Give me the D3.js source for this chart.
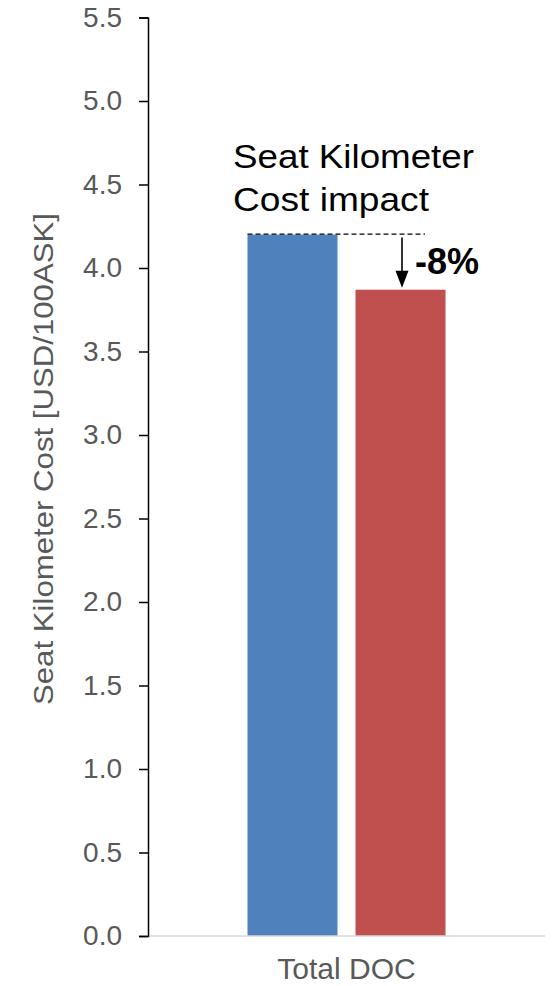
<!DOCTYPE html>
<meta charset="utf-8">
<style>
  body { margin: 0; background: #fff; }
  text { font-family: Arial, "Liberation Sans", sans-serif; }
</style>
<svg width="557" height="986"></svg>
<script src="https://cdn.jsdelivr.net/npm/d3@7"></script>
<script>

var categories = ["Total DOC"];
var seriesNames = ["Baseline", "New"];
var seriesValues = [4.2, 3.87];
var seriesColors = ["#4F81BD", "#C0504D"];
var yTicks = [0, 0.5, 1, 1.5, 2, 2.5, 3, 3.5, 4, 4.5, 5, 5.5];
var changeLabel = "-8%";

var svg = d3.select("svg");

var x0 = 148, x1 = 545;
var y = d3.scaleLinear().domain([0, 5.5]).range([936, 17.5]);

var xBand = d3.scaleBand().domain(categories).range([x0, x1]).paddingInner(0).paddingOuter(0.5025);
var xSeries = d3.scaleBand().domain(seriesNames).range([0, xBand.bandwidth()]).paddingInner(0.1667);

// bars
var g = svg.append("g");
categories.forEach(function(c) {
  g.selectAll("rect.s")
    .data(seriesValues)
    .enter().append("rect")
    .attr("x", function(d, i) { return xBand(c) + xSeries(seriesNames[i]); })
    .attr("y", function(d) { return y(d); })
    .attr("width", xSeries.bandwidth())
    .attr("height", function(d) { return y(0) - y(d); })
    .attr("fill", function(d, i) { return seriesColors[i]; });
});

// x baseline
svg.append("line")
  .attr("x1", x0).attr("x2", x1)
  .attr("y1", y(0)).attr("y2", y(0))
  .attr("stroke", "#D9D9D9").attr("stroke-width", 1.5);

// y axis
var yAxis = svg.append("g")
  .attr("transform", "translate(" + x0 + ",0)")
  .call(d3.axisLeft(y).tickValues(yTicks).tickSize(9).tickPadding(17)
    .tickFormat(d3.format(".1f")));
yAxis.select(".domain").attr("stroke", "#000").attr("stroke-width", 1.5);
yAxis.selectAll(".tick line").attr("stroke", "#000").attr("stroke-width", 1.5);
yAxis.selectAll(".tick text")
  .attr("fill", "#595959")
  .style("font-size", "28px")
  .style("font-family", "Arial, 'Liberation Sans', sans-serif");

// category label
svg.append("text")
  .attr("x", xBand(categories[0]) + xBand.bandwidth() / 2)
  .attr("y", 979)
  .attr("text-anchor", "middle")
  .attr("fill", "#595959")
  .style("font-size", "30px")
  .text(categories[0]);

// y axis title
svg.append("text")
  .attr("transform", "translate(53,459) rotate(-90)")
  .attr("text-anchor", "middle")
  .attr("fill", "#595959")
  .style("font-size", "28px")
  .attr("textLength", 492)
  .attr("lengthAdjust", "spacingAndGlyphs")
  .text("Seat Kilometer Cost [USD/100ASK]");

// annotation title
var note = svg.append("g").attr("fill", "#000").style("font-size", "34px");
note.append("text").attr("x", 233).attr("y", 168)
  .attr("textLength", 241).attr("lengthAdjust", "spacingAndGlyphs")
  .text("Seat Kilometer");
note.append("text").attr("x", 233).attr("y", 211)
  .attr("textLength", 196).attr("lengthAdjust", "spacingAndGlyphs")
  .text("Cost impact");

// dashed reference line
var barX = xBand(categories[0]);
var arrowX = 402;
svg.append("line")
  .attr("x1", barX + xSeries(seriesNames[0]))
  .attr("x2", 425)
  .attr("y1", y(seriesValues[0]) - 0.5).attr("y2", y(seriesValues[0]) - 0.5)
  .attr("stroke", "#000").attr("stroke-width", 1.3)
  .attr("stroke-dasharray", "5,3");

// arrow
svg.append("line")
  .attr("x1", arrowX).attr("x2", arrowX)
  .attr("y1", y(seriesValues[0]) + 3).attr("y2", y(seriesValues[1]) - 12)
  .attr("stroke", "#000").attr("stroke-width", 1.6);
svg.append("path")
  .attr("d", "M" + (arrowX - 6.5) + "," + (y(seriesValues[1]) - 19) +
    "L" + (arrowX + 6.5) + "," + (y(seriesValues[1]) - 19) +
    "L" + arrowX + "," + (y(seriesValues[1]) - 2) + "Z")
  .attr("fill", "#000");

svg.append("text")
  .attr("x", 415)
  .attr("y", 274)
  .attr("fill", "#000")
  .style("font-size", "36px")
  .style("font-weight", "bold")
  .text(changeLabel);

</script>
